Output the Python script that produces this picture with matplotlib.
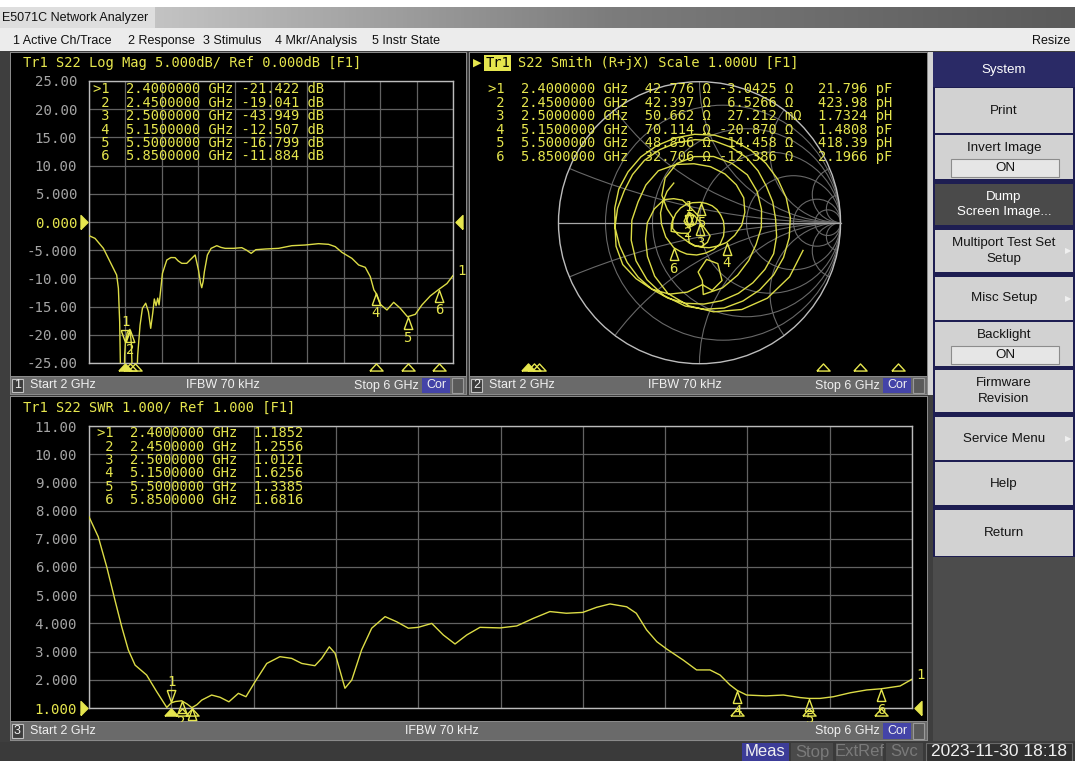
import numpy as np
import matplotlib
matplotlib.use("Agg")
import matplotlib.pyplot as plt
from matplotlib.patches import Rectangle, Circle
from matplotlib.transforms import blended_transform_factory, offset_copy

# ---------------------------------------------------------------- data
freq_start, freq_stop = 2.0, 6.0

logmag_f = [2.000, 2.066, 2.158, 2.231, 2.304, 2.323, 2.337, 2.350, 2.370, 2.385,
            2.392, 2.400, 2.420, 2.450, 2.465, 2.478, 2.500, 2.520, 2.535, 2.561,
            2.587, 2.623, 2.653, 2.678, 2.700, 2.718, 2.737, 2.755, 2.770, 2.807,
            2.855, 2.900, 2.946, 2.980, 3.019, 3.074, 3.129, 3.166, 3.203, 3.225,
            3.239, 3.255, 3.268, 3.301, 3.342, 3.404, 3.450, 3.496, 3.588, 3.679,
            3.734, 3.782, 3.833, 3.936, 4.083, 4.229, 4.376, 4.523, 4.633, 4.706,
            4.779, 4.889, 4.963, 5.036, 5.091, 5.131, 5.150, 5.201, 5.274, 5.348,
            5.421, 5.500, 5.586, 5.659, 5.751, 5.850, 5.934, 6.000]
logmag_db = [-2.42, -2.9, -4.67, -7.03, -9.4, -11.76, -17.7, -30.0, -40.0, -30.0,
             -23.5, -21.42, -19.6, -19.04, -21.5, -28.0, -43.9, -30.0, -23.6, -18.3,
             -15.3, -14.4, -15.9, -18.85, -16.2, -13.65, -14.85, -13.5, -14.7, -9.1,
             -6.74, -6.3, -6.32, -6.9, -7.33, -7.33, -6.44, -5.85, -8.51, -10.8,
             -11.65, -10.5, -8.8, -5.85, -4.67, -4.2, -4.5, -4.67, -4.67, -4.55,
             -5.02, -5.56, -4.91, -4.79, -4.67, -4.2, -4.08, -3.84, -3.96, -4.37,
             -5.38, -6.44, -7.62, -8.04, -9.69, -12.05, -12.51, -14.6, -15.6, -14.24,
             -15.3, -16.8, -16.37, -14.7, -13.1, -11.88, -10.9, -9.5]

swr_f = [2.000, 2.045, 2.086, 2.126, 2.159, 2.191, 2.224, 2.280, 2.329, 2.378,
         2.400, 2.420, 2.450, 2.475, 2.500, 2.525, 2.548, 2.596, 2.637, 2.680,
         2.726, 2.763, 2.807, 2.864, 2.928, 2.985, 3.034, 3.098, 3.131, 3.168,
         3.196, 3.244, 3.277, 3.325, 3.374, 3.439, 3.495, 3.552, 3.600, 3.666,
         3.722, 3.779, 3.836, 3.900, 3.998, 4.079, 4.160, 4.240, 4.320, 4.400,
         4.467, 4.532, 4.613, 4.660, 4.710, 4.760, 4.808, 4.888, 4.953, 5.018,
         5.067, 5.115, 5.150, 5.196, 5.290, 5.375, 5.456, 5.500, 5.553, 5.618,
         5.700, 5.780, 5.850, 5.942, 6.000]
swr_val = [7.78, 7.07, 6.01, 4.83, 3.88, 3.06, 2.52, 2.17, 1.58, 1.02,
           1.185, 1.23, 1.256, 1.15, 1.012, 1.12, 1.28, 1.46, 1.38, 1.22,
           1.52, 1.40, 1.93, 2.58, 2.82, 2.76, 2.58, 2.50, 2.76, 3.17,
           2.94, 1.70, 1.99, 3.06, 3.83, 4.24, 4.06, 3.83, 3.86, 4.00,
           3.59, 3.27, 3.59, 3.86, 3.84, 3.91, 4.18, 4.42, 4.36, 4.39,
           4.57, 4.69, 4.59, 4.36, 3.77, 3.35, 3.09, 2.70, 2.35, 2.35,
           2.17, 1.82, 1.626, 1.46, 1.43, 1.46, 1.37, 1.339, 1.34, 1.40,
           1.54, 1.64, 1.682, 1.78, 2.02]

# Smith trace: S22 magnitude and phase (deg)
smith_mag = [0.76, 0.745, 0.72, 0.685, 0.64, 0.595, 0.55, 0.495, 0.44, 0.40,
             0.37, 0.335, 0.30, 0.25, 0.20, 0.12, 0.05, 0.03, 0.0849, 0.11,
             0.1082, 0.06, 0.007, 0.04,
             0.12, 0.15, 0.17, 0.17, 0.16, 0.11, 0.15, 0.21, 0.20, 0.19, 0.25, 0.33,
             0.40, 0.45, 0.47, 0.48, 0.48, 0.48, 0.465, 0.45, 0.44, 0.43, 0.44, 0.46, 0.49, 0.51,
             0.41, 0.35, 0.265, 0.318, 0.44, 0.488, 0.44,
             0.50, 0.55, 0.58, 0.60, 0.62, 0.615, 0.60, 0.59, 0.58, 0.585, 0.59, 0.59,
             0.59, 0.59, 0.59, 0.58, 0.57, 0.555, 0.54, 0.54, 0.54, 0.555, 0.57, 0.57,
             0.57, 0.572, 0.575, 0.578, 0.58, 0.58, 0.58, 0.582, 0.585, 0.59, 0.60, 0.61,
             0.62, 0.622, 0.625, 0.625, 0.625, 0.628, 0.63, 0.63, 0.63, 0.632, 0.635, 0.64,
             0.645, 0.645, 0.645, 0.643, 0.64, 0.635, 0.63, 0.615, 0.60,
             0.575, 0.55, 0.525, 0.50, 0.48, 0.46, 0.465, 0.47, 0.445, 0.42, 0.405, 0.39,
             0.375, 0.36, 0.33, 0.30, 0.265, 0.2377,
             0.21, 0.19, 0.175, 0.165, 0.16, 0.16, 0.175, 0.195, 0.19, 0.18, 0.17, 0.16,
             0.15, 0.145, 0.145, 0.15, 0.155, 0.16, 0.17, 0.18, 0.195, 0.21, 0.215, 0.22,
             0.23, 0.24, 0.245, 0.2544, 0.26, 0.27, 0.285, 0.30, 0.32, 0.335]
smith_deg = [-15, -31, -48, -64, -81, -97, -114, -130, -147, -163,
             -180, 163, 147, 137, 127, 120, 100, -160, -155.3, 175,
             135.3, 125, 0, -45,
             -51, -68, -84, -100, -117, -137, -150, -163, -176, 170, 157, 144,
             127.5, 111, 94.5, 78, 61.5, 45, 28.5, 12, -4.5, -21, -37.5, -54, -70.5, -87,
             -87.2, -91.6, -79.1, -65.9, -68.7, -79.4, -87.4,
             -100, -112.9, -125.7, -138.6, -151.4, -164.3, -177.1, 170.0, 157.2, 144.3, 131.5, 118.6,
             105.8, 93.0, 80.1, 67.3, 54.4, 41.6, 28.7, 15.9, 3.0, -9.8, -22.7, -35.5,
             -48.4, -61.2, -74.1, -86.9, -99.8, -112.6, -125.5, -138.3, -151.2, -164.0, -176.9, 170.3,
             157.4, 144.6, 131.7, 118.9, 106.0, 93.2, 80.3, 67.5, 54.6, 41.8, 28.9, 16.1,
             3.2, -9.6, -22.5, -35.3, -48.2, -61.0, -73.9, -86.7, -99.6,
             -116.1, -132.6, -149.1, -165.6, 177.9, 161.4, 144.9, 128.4, 111.9, 95.4, 78.9, 62.4,
             45.9, 29.4, 12.9, -3.6, -20.0, -36.2,
             -52, -69, -85, -102, -118, -135, -151, -168, 175, 159, 142, 126,
             109, 86.0, 70, 53, 37, 20, 4, -13, -29, -46, -62, -79,
             -95, -112, -124, -135.9, -157, -178, 166, 149, 136, 123]

marker_ids = ["1", "2", "3", "4", "5", "6"]
marker_f = [2.40, 2.45, 2.50, 5.15, 5.50, 5.85]
marker_db = [-21.422, -19.041, -43.949, -12.507, -16.799, -11.884]
marker_swr = [1.1852, 1.2556, 1.0121, 1.6256, 1.3385, 1.6816]
marker_R = [42.776, 42.397, 50.662, 70.114, 48.896, 32.706]
marker_X = [-3.0425, 6.5266, 0.027212, -20.870, 14.458, -12.386]
marker_X_txt = ["-3.0425 Ω", " 6.5266 Ω", " 27.212 mΩ", "-20.870 Ω", " 14.458 Ω", "-12.386 Ω"]
marker_LC = ["21.796 pF", "423.98 pH", "1.7324 pH", "1.4808 pF", "418.39 pH", "2.1966 pF"]
z0 = 50.0

logmag_ticks = ["25.00", "20.00", "15.00", "10.00", "5.000", "0.000",
                "-5.000", "-10.00", "-15.00", "-20.00", "-25.00"]
swr_ticks = ["11.00", "10.00", "9.000", "8.000", "7.000", "6.000",
             "5.000", "4.000", "3.000", "2.000", "1.000"]

menu_items = ["1 Active Ch/Trace", "2 Response", "3 Stimulus", "4 Mkr/Analysis", "5 Instr State"]
softkeys = ["Print", "Invert Image", "Dump\nScreen Image...", "Multiport Test Set\nSetup",
            "Misc Setup", "Backlight", "Firmware\nRevision", "Service Menu", "Help", "Return"]

# ---------------------------------------------------------------- style
YEL = "#e6e64e"
TRC = "#dcdc46"
GRID = "#626262"
BORDER = "#bcbcbc"
TICK = "#a4a4a4"
MONO = "DejaVu Sans Mono"
UI = "Liberation Sans"
W, H = 1075, 761

fig = plt.figure(figsize=(W / 100, H / 100), dpi=100)


def px_axes(x0, y0, x1, y1, **kw):
    return fig.add_axes([x0 / W, 1 - y1 / H, (x1 - x0) / W, (y1 - y0) / H], **kw)


def pix(ax):
    ax.set_xlim(0, W)
    ax.set_ylim(H, 0)
    ax.axis("off")
    ax.patch.set_alpha(0)


bg = px_axes(0, 0, W, H)
pix(bg)


def rect(ax, x0, y0, x1, y1, fc, ec="none", lw=0, z=1):
    ax.add_patch(Rectangle((x0, y0), x1 - x0, y1 - y0, fc=fc, ec=ec, lw=lw, zorder=z))


rect(bg, 0, 0, W, H, "#3e3e3e", z=0)
rect(bg, 0, 0, W, 7, "#ffffff")
grad = np.linspace(0, 1, 256)[None, :]
bg.imshow(grad, extent=(150, W, 28, 7), cmap=matplotlib.colors.LinearSegmentedColormap.from_list(
    "t", ["#c4c4c4", "#7c7c7c", "#5a5a5a"]), aspect="auto", zorder=1)
rect(bg, 0, 7, 155, 28, "#dedede", z=2)
bg.text(2, 18, "E5071C Network Analyzer", fontsize=9, family=UI, color="#101010", va="center", zorder=3)
rect(bg, 0, 28, W, 51, "#ececec", z=2)
for x, t in zip([13, 128, 203, 275, 372], menu_items):
    bg.text(x, 41, t, fontsize=9, family=UI, color="#101010", va="center", zorder=3)
bg.text(1070, 41, "Resize", fontsize=9, family=UI, color="#101010", va="center", ha="right", zorder=3)

for (x0, y0, x1, y1) in [(10, 52, 467, 395), (469, 52, 928, 395), (10, 396, 928, 741)]:
    rect(bg, x0, y0, x1, y1, "#8a8a8a", z=2)
rect(bg, 11, 53, 466, 376, "#000000", z=3)
rect(bg, 470, 53, 927, 376, "#000000", z=3)
rect(bg, 11, 397, 927, 721, "#000000", z=3)
rect(bg, 928, 52, 933, 395, "#d4d4d4", z=2)

rect(bg, 933, 52, 1075, 741, "#4c4c4c", z=2)
rect(bg, 933, 86, 1075, 557, "#1e1e52", z=3)
rect(bg, 933, 52, 1075, 87, "#2a2a66", z=3)
bg.text(1004, 70, "System", fontsize=9.6, family=UI, color="white", ha="center", va="center", zorder=5)
keys_y = [(88, 133), (135, 179), (184, 225), (230, 272), (277, 320), (322, 366),
          (370, 412), (417, 460), (462, 505), (510, 556)]
for (ya, yb), t in zip(keys_y, softkeys):
    dark = t.startswith("Dump")
    rect(bg, 935, ya, 1073, yb, "#4a4a4a" if dark else "#d2d2d2", z=4)
    has_on = t in ("Invert Image", "Backlight")
    ty = (ya + yb) / 2 - (9 if has_on else 0)
    bg.text(1004, ty, t, fontsize=9.6, family=UI, color="white" if dark else "#141414",
            ha="center", va="center", zorder=5, linespacing=1.35)
    if has_on:
        rect(bg, 951, yb - 20, 1059, yb - 2, "#e6e6e6", ec="#8c8c8c", lw=0.8, z=5)
        bg.text(1005, yb - 11, "ON", fontsize=9.6, family=UI, color="#141414", ha="center",
                va="center", zorder=6)
    if t in ("Multiport Test Set\nSetup", "Misc Setup", "Service Menu"):
        bg.text(1068, (ya + yb) / 2, "▶", fontsize=6, color="#f0f0f0", ha="center",
                va="center", zorder=6, family="DejaVu Sans")

# plot axes ----------------------------------------------------------
ax1 = px_axes(89, 81, 453, 363)
ax3 = px_axes(89, 426, 912, 708)
sx = px_axes(470, 53, 927, 376)

for ax, ylim, labels, refidx in [(ax1, (-25, 25), logmag_ticks, 5), (ax3, (1, 11), swr_ticks, 10)]:
    ax.set_facecolor("#000000")
    ax.set_xlim(freq_start, freq_stop)
    ax.set_ylim(*ylim)
    ax.set_xticks(np.linspace(freq_start, freq_stop, 11))
    ax.set_yticks(np.linspace(ylim[1], ylim[0], 11))
    ax.set_yticklabels(labels, family=MONO, fontsize=10.2)
    ax.tick_params(axis="both", length=0, pad=8.5, colors=TICK)
    ax.tick_params(axis="x", labelbottom=False)
    for lab in ax.get_yticklabels():
        lab.set_color(TICK)
    ax.get_yticklabels()[refidx].set_color(YEL)
    ax.grid(True, color=GRID, lw=0.9)
    ax.set_axisbelow(True)
    for s in ax.spines.values():
        s.set_color(BORDER)
        s.set_linewidth(1.0)

ref_left = [(-0.25, -0.5), (0.25, 0.0), (-0.25, 0.5), (-0.25, -0.5)]
ref_right = [(0.25, -0.5), (-0.25, 0.0), (0.25, 0.5), (0.25, -0.5)]
for ax, refv in [(ax1, 0.0), (ax3, 1.0)]:
    bt = blended_transform_factory(ax.transAxes, ax.transData)
    ax.plot([0], [refv], marker=ref_left, ms=10, color=YEL, clip_on=False, zorder=6,
            transform=offset_copy(bt, fig=fig, x=-5, y=0, units="dots"))
    ax.plot([1], [refv], marker=ref_right, ms=10, color=YEL, clip_on=False, zorder=6,
            transform=offset_copy(bt, fig=fig, x=6, y=0, units="dots"))

ax1.plot(logmag_f, logmag_db, color=TRC, lw=1.0, zorder=4)
ax3.plot(swr_f, swr_val, color=TRC, lw=1.0, zorder=4)
ax1.annotate("1", (logmag_f[-1], logmag_db[-1]), xytext=(3, 3), textcoords="offset points",
             color=YEL, family=MONO, fontsize=10, va="center", ha="left", annotation_clip=False)
ax3.annotate("1", (swr_f[-1], swr_val[-1]), xytext=(3, 3), textcoords="offset points",
             color=YEL, family=MONO, fontsize=10, va="center", ha="left", annotation_clip=False)

tri_up = [(-0.36, -0.5), (0.36, -0.5), (0.0, 0.5), (-0.36, -0.5)]
tri_dn = [(-0.36, 0.5), (0.36, 0.5), (0.0, -0.5), (-0.36, 0.5)]
flat_up = [(-0.5, -0.27), (0.5, -0.27), (0.0, 0.27), (-0.5, -0.27)]


def draw_markers(ax, fx, fy, ylo, yhi):
    for i, (m, x, y) in enumerate(zip(marker_ids, fx, fy)):
        if ylo <= y <= yhi:
            active = (i == 0)
            shape = tri_dn if active else tri_up
            dy = 6.5 if active else -6.5
            ax.plot([x], [y], marker=shape, ms=8.6, mfc="none", mec=YEL, mew=1.0,
                    clip_on=False, zorder=7,
                    transform=offset_copy(ax.transData, fig=fig, x=0, y=dy, units="dots"))
            ax.annotate(m, (x, y), xytext=(0, 15 if active else -15), textcoords="offset points",
                        color=YEL, family=MONO, fontsize=10, ha="center", va="center",
                        annotation_clip=False, zorder=7)


def bottom_markers(ax, fx):
    bt = blended_transform_factory(ax.transData, ax.transAxes)
    for i, x in enumerate(fx):
        ax.plot([x], [0], marker=flat_up, ms=9.5, mfc=YEL if i == 0 else "none", mec=YEL,
                mew=1.0, clip_on=False, zorder=7,
                transform=offset_copy(bt, fig=fig, x=0, y=-4, units="dots"))


draw_markers(ax1, marker_f, marker_db, -25, 25)
bottom_markers(ax1, marker_f)
draw_markers(ax3, marker_f, marker_swr, 1, 11)
bottom_markers(ax3, marker_f)

# Smith chart ---------------------------------------------------------
cx, cy, rad = 699.5, 222.7, 141.0
sx.set_xlim((470 - cx) / rad, (927 - cx) / rad)
sx.set_ylim((cy - 376) / rad, (cy - 53) / rad)
sx.axis("off")
sx.add_patch(Circle((0, 0), 1, fc="none", ec="#bcbcbc", lw=1.0, zorder=3))
clipc = Circle((0, 0), 1, transform=sx.transData)
sgrid = "#686868"
for r in [0.2, 0.5, 1, 2, 5, 10]:
    sx.add_patch(Circle((r / (1 + r), 0), 1 / (1 + r), fc="none", ec=sgrid, lw=0.8, zorder=2))
for xv in [0.2, 0.5, 1, 2, 5, 10]:
    for sgn in (1, -1):
        c = Circle((1, sgn / xv), 1 / xv, fc="none", ec=sgrid, lw=0.8, zorder=2)
        sx.add_patch(c)
        c.set_clip_path(clipc)
sx.plot([-1, 1], [0, 0], color="#a8a8a8", lw=0.9, zorder=3)
gam = np.array(smith_mag) * np.exp(1j * np.deg2rad(smith_deg))
sx.plot(gam.real, gam.imag, color=TRC, lw=1.0, zorder=4)
zm = np.array(marker_R) + 1j * np.array(marker_X)
gm = (zm - z0) / (zm + z0)
draw_markers(sx, gm.real, gm.imag, -2, 2)

stim = px_axes(485.6, 362, 914, 363)
stim.set_xlim(freq_start, freq_stop)
stim.axis("off")
bottom_markers(stim, marker_f)

# overlay ------------------------------------------------------------
ov = px_axes(0, 0, W, H)
pix(ov)

for (x0, x1, y0, y1, num, mid) in [(11, 466, 377, 394, "1", 223), (470, 927, 377, 394, "2", 685),
                                   (11, 927, 722, 740, "3", 442)]:
    rect(ov, x0, y0, x1, y1, "#6a6a6a", z=2)
    yc = (y0 + y1) / 2
    rect(ov, x0 + 1, y0 + 2, x0 + 12, y1 - 2, "#3c3c3c", ec="#c0c0c0", lw=0.8, z=3)
    ov.text(x0 + 6.5, yc, num, fontsize=9, family=UI, color="#f0f0f0", ha="center", va="center", zorder=4)
    ov.text(x0 + 19, yc, "Start 2 GHz", fontsize=9, family=UI, color="#f0f0f0", va="center", zorder=4)
    ov.text(mid, yc, "IFBW 70 kHz", fontsize=9, family=UI, color="#f0f0f0", ha="center", va="center", zorder=4)
    rect(ov, x1 - 44, y0 + 1, x1 - 16, y1 - 1, "#4444a8", z=3)
    ov.text(x1 - 30, yc, "Cor", fontsize=9, family=UI, color="#f0f0f0", ha="center", va="center", zorder=4)
    rect(ov, x1 - 14, y0 + 1, x1 - 3, y1 - 1, "#5a5a5a", ec="#9a9a9a", lw=0.8, z=3)
    ov.text(x1 - 47, yc, "Stop 6 GHz", fontsize=9, family=UI, color="#f0f0f0", ha="right", va="center", zorder=4)

rect(ov, 0, 742, W, H, "#3a3a3a", z=2)
rect(ov, 742, 743, 789, 761, "#3c3c98", z=3)
ov.text(765.5, 752, "Meas", fontsize=12, family=UI, color="#f0f0f0", ha="center", va="center", zorder=4)
for xa, xb, t in [(791, 833, "Stop"), (836, 883, "ExtRef"), (886, 923, "Svc")]:
    rect(ov, xa, 743, xb, 761, "#4a4a4a", z=3)
    ov.text((xa + xb) / 2, 752, t, fontsize=12, family=UI, color="#7a7a7a", ha="center", va="center", zorder=4)
rect(ov, 926, 743, 1072, 761, "#303030", ec="#6a6a6a", lw=0.8, z=3)
ov.text(999, 752, "2023-11-30 18:18", fontsize=12.5, family=UI, color="#f0f0f0", ha="center", va="center", zorder=4)

ov.text(23, 63, "Tr1 S22 Log Mag 5.000dB/ Ref 0.000dB [F1]", fontsize=9.9, family=MONO, color=YEL,
        va="center", zorder=5)
ov.text(23, 407.5, "Tr1 S22 SWR 1.000/ Ref 1.000 [F1]", fontsize=9.9, family=MONO, color=YEL,
        va="center", zorder=5)
ov.text(472.5, 63, "▶", fontsize=8, family="DejaVu Sans", color=YEL, va="center", zorder=5)
rect(ov, 484, 55, 511, 71, YEL, z=4)
ov.text(485.5, 63, "Tr1", fontsize=9.9, family=MONO, color="#000000", va="center", zorder=5)
ov.text(518, 63, "S22 Smith (R+jX) Scale 1.000U [F1]", fontsize=9.9, family=MONO, color=YEL,
        va="center", zorder=5)

row_y = [89.3, 102.7, 116.0, 129.6, 143.0, 156.5]
for i in range(6):
    lab = (">" if i == 0 else " ") + marker_ids[i]
    ov.text(92.7, row_y[i], f"{lab}  {marker_f[i]:.7f} GHz {marker_db[i]:7.3f} dB",
            fontsize=9.9, family=MONO, color=YEL, va="center", zorder=5)
    ov.text(488.3, row_y[i],
            f"{lab}  {marker_f[i]:.7f} GHz  {marker_R[i]:.3f} Ω {marker_X_txt[i]:<11s} {marker_LC[i]}",
            fontsize=9.9, family=MONO, color=YEL, va="center", zorder=5)
    ov.text(96.7, 433.3 + 13.33 * i, f"{lab}  {marker_f[i]:.7f} GHz  {marker_swr[i]:.4f}",
            fontsize=9.9, family=MONO, color=YEL, va="center", zorder=5)

fig.savefig("out.png", dpi=100, facecolor="#3e3e3e")
